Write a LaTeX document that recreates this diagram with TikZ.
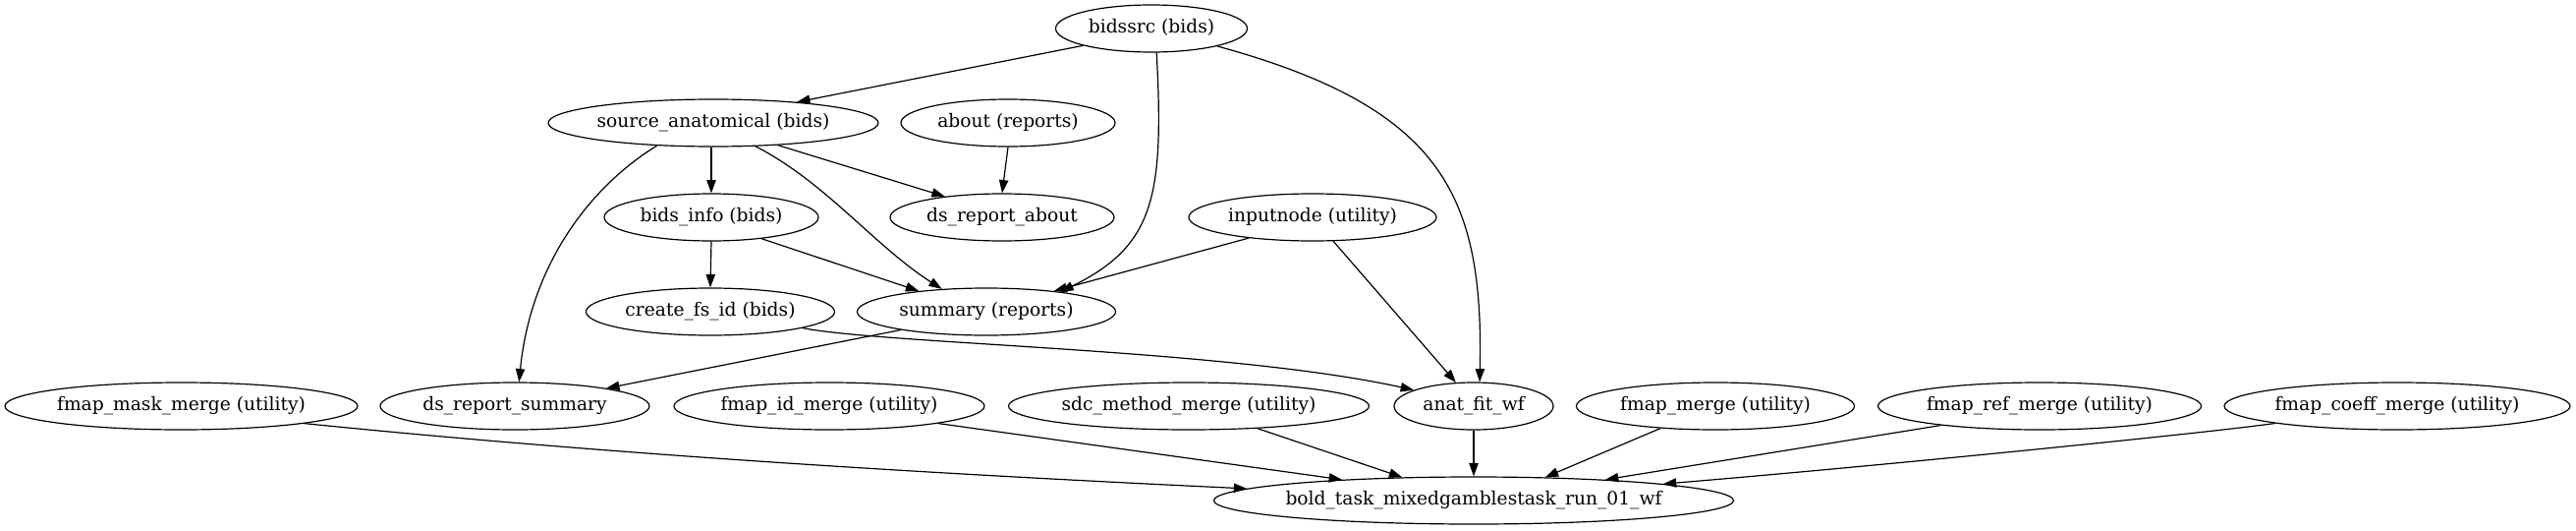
\documentclass[tikz,border=0pt]{standalone}
\usepackage{fontspec}
\setmainfont{DejaVu Serif}
\usetikzlibrary{shapes.geometric,arrows.meta}
\newcommand\ndlabel[1]{\makebox[0pt][c]{\strut #1}}
\begin{document}
\begin{tikzpicture}[x=0.75pt,y=-0.75pt,
  nd/.style={draw, ellipse, line width=0.9pt, inner sep=0pt, minimum height=36pt, font=\fontsize{14}{17}\selectfont},
  e/.style={-{Triangle[length=10pt,width=7pt]}, line width=0.9pt}]
\useasboundingbox (0,0) rectangle (2622,539);
% nodes
\node[nd,minimum width=146.25pt] (B) at (1172,29) {\ndlabel{bidssrc (bids)}};
\node[nd,minimum width=252pt] (S) at (726,125) {\ndlabel{source\_anatomical (bids)}};
\node[nd,minimum width=163.5pt] (A) at (1026,125) {\ndlabel{about (reports)}};
\node[nd,minimum width=163.5pt] (I) at (724,221) {\ndlabel{bids\_info (bids)}};
\node[nd,minimum width=171pt] (DA) at (1020,221) {\ndlabel{ds\_report\_about}};
\node[nd,minimum width=189pt] (N) at (1336,221) {\ndlabel{inputnode (utility)}};
\node[nd,minimum width=189.75pt] (F) at (723,317) {\ndlabel{create\_fs\_id (bids)}};
\node[nd,minimum width=197.25pt] (R) at (1004,317) {\ndlabel{summary (reports)}};
\node[nd,minimum width=269.25pt] (M) at (184.5,413) {\ndlabel{fmap\_mask\_merge (utility)}};
\node[nd,minimum width=205.5pt] (DS) at (524,413) {\ndlabel{ds\_report\_summary}};
\node[nd,minimum width=237pt] (ID) at (844,413) {\ndlabel{fmap\_id\_merge (utility)}};
\node[nd,minimum width=275.25pt] (SD) at (1210,413) {\ndlabel{sdc\_method\_merge (utility)}};
\node[nd,minimum width=121.5pt] (AF) at (1500,413) {\ndlabel{anat\_fit\_wf}};
\node[nd,minimum width=212.25pt] (FM) at (1746,413) {\ndlabel{fmap\_merge (utility)}};
\node[nd,minimum width=246.75pt] (RF) at (2076,413) {\ndlabel{fmap\_ref\_merge (utility)}};
\node[nd,minimum width=264pt] (CF) at (2440,413) {\ndlabel{fmap\_coeff\_merge (utility)}};
\node[nd,minimum width=396.75pt] (BT) at (1500,509) {\ndlabel{bold\_task\_mixedgamblestask\_run\_01\_wf}};
% edges
\draw[e] (B.194) -- (S.14);
\draw[e] (B.-78) .. controls (1185,200) and (1175,250) .. (R.15);
\draw[e] (B.-15) .. controls (1470,110) and (1510,200) .. (AF.76);
\draw[e] (I.north |- S.south) -- (I.north);
\draw[e] (S.-19) -- (DA.160);
\draw[e] (A.south) -- (DA.north);
\draw[e] (S.202) .. controls (600,190) and (540,270) .. (DS.80);
\draw[e] (S.-29) .. controls (840,185) and (890,250) .. (R.153);
\draw[e] (I.south) -- (F.north);
\draw[e] (I.-23) -- (R.163);
\draw[e] (N.198) -- (R.17);
\draw[e] (N.-49) -- (AF.127);
\draw[e] (F.-10) .. controls (900,350) and (1250,355) .. (AF.165);
\draw[e] (R.192) -- (DS.11);
\draw[e] (M.-8) .. controls (620,462) and (950,482) .. (BT.177);
\draw[e] (ID.-9) -- (BT.171);
\draw[e] (SD.-18) -- (BT.162);
\draw[e] (AF.south) -- (BT.north);
\draw[e] (FM.202) -- (BT.18);
\draw[e] (RF.191) -- (BT.9);
\draw[e] (CF.188) .. controls (2250,440) and (1900,475) .. (BT.5);
\end{tikzpicture}
\end{document}
